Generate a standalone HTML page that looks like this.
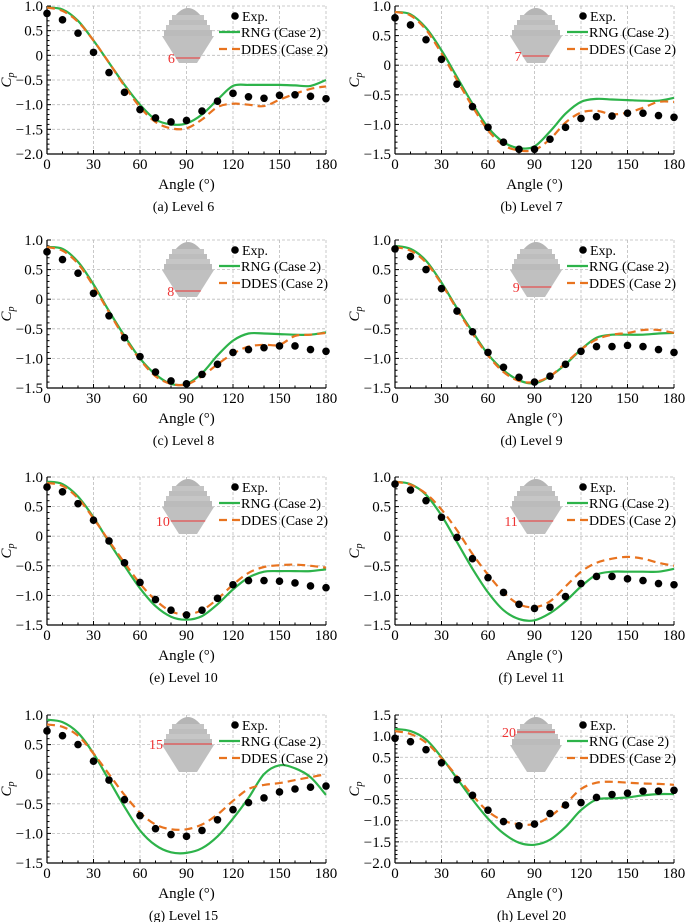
<!DOCTYPE html>
<html><head><meta charset="utf-8"><style>
body{margin:0;background:#fff;}
svg{display:block;font-family:"Liberation Serif",serif;}
</style></head><body>
<svg id="fig" width="685" height="922" viewBox="0 0 685 922" xmlns="http://www.w3.org/2000/svg"></svg>
<script>
const angles=[0,10,20,30,40,50,60,70,80,90,100,110,120,130,140,150,160,170,180];
const xTicks=[0,30,60,90,120,150,180];
const levels=["6","7","8","9","10","11","15","20"];
const captions=["(a) Level 6","(b) Level 7","(c) Level 8","(d) Level 9","(e) Level 10","(f) Level 11","(g) Level 15","(h) Level 20"];
const yMins=[-2,-1.5,-1.5,-1.5,-1.5,-1.5,-1.5,-2];
const yMaxs=[1,1,1,1,1,1,1,1.5];
const expA=[.85,.72,.45,.06,-.35,-.75,-1.1,-1.27,-1.35,-1.32,-1.13,-.93,-.77,-.84,-.87,-.81,-.8,-.83,-.88];
const rngA=[.97,.93,.7,.3,-.15,-.6,-1.0,-1.3,-1.4,-1.38,-1.2,-.9,-.62,-.6,-.6,-.6,-.61,-.62,-.5];
const ddesA=[.97,.9,.68,.3,-.15,-.62,-1.05,-1.35,-1.48,-1.48,-1.3,-1.05,-.98,-1.0,-1.03,-.9,-.78,-.68,-.63];
const expB=[.8,.68,.43,.1,-.32,-.7,-1.05,-1.3,-1.42,-1.42,-1.25,-1.05,-.9,-.87,-.86,-.81,-.81,-.85,-.88];
const rngB=[.9,.86,.63,.25,-.2,-.65,-1.05,-1.3,-1.4,-1.37,-1.12,-.82,-.62,-.57,-.58,-.59,-.6,-.6,-.55];
const ddesB=[.9,.84,.6,.2,-.25,-.7,-1.1,-1.35,-1.44,-1.43,-1.25,-.97,-.8,-.77,-.83,-.8,-.72,-.62,-.62];
const expC=[.8,.67,.44,.1,-.28,-.65,-.97,-1.23,-1.38,-1.43,-1.27,-1.1,-.9,-.85,-.82,-.79,-.79,-.85,-.88];
const rngC=[.88,.85,.63,.25,-.2,-.62,-1.0,-1.27,-1.43,-1.43,-1.25,-.95,-.7,-.58,-.58,-.59,-.6,-.6,-.56];
const ddesC=[.88,.82,.6,.22,-.22,-.65,-1.02,-1.3,-1.43,-1.44,-1.3,-1.1,-.92,-.8,-.77,-.77,-.62,-.6,-.57];
const expD=[.85,.72,.5,.18,-.2,-.55,-.9,-1.15,-1.32,-1.4,-1.3,-1.1,-.88,-.8,-.8,-.78,-.8,-.85,-.9];
const rngD=[.9,.85,.65,.28,-.15,-.55,-.93,-1.2,-1.37,-1.42,-1.3,-1.1,-.85,-.65,-.6,-.6,-.6,-.58,-.57];
const ddesD=[.88,.82,.62,.26,-.17,-.58,-.95,-1.23,-1.38,-1.4,-1.3,-1.08,-.85,-.68,-.6,-.57,-.52,-.52,-.57];
const expE=[.83,.75,.55,.27,-.08,-.45,-.78,-1.07,-1.25,-1.33,-1.25,-1.05,-.82,-.75,-.75,-.76,-.79,-.84,-.87];
const rngE=[.92,.88,.67,.32,-.1,-.5,-.88,-1.18,-1.36,-1.41,-1.35,-1.15,-.9,-.7,-.6,-.59,-.59,-.59,-.56];
const ddesE=[.9,.85,.64,.3,-.08,-.45,-.8,-1.08,-1.27,-1.32,-1.25,-1.06,-.82,-.62,-.52,-.49,-.48,-.5,-.53];
const expF=[.88,.78,.6,.32,-.02,-.38,-.7,-.95,-1.15,-1.22,-1.2,-1.02,-.8,-.68,-.68,-.72,-.75,-.8,-.82];
const rngF=[.92,.88,.7,.35,-.1,-.55,-.95,-1.25,-1.4,-1.42,-1.3,-1.1,-.85,-.65,-.6,-.6,-.6,-.6,-.55];
const ddesF=[.92,.87,.72,.45,.1,-.3,-.65,-.95,-1.15,-1.2,-1.1,-.85,-.6,-.45,-.38,-.35,-.38,-.45,-.5];
const expG=[.73,.65,.5,.22,-.1,-.43,-.7,-.92,-1.02,-1.05,-.95,-.77,-.6,-.48,-.4,-.3,-.25,-.22,-.2];
const rngG=[.92,.88,.7,.35,-.1,-.55,-.95,-1.2,-1.32,-1.33,-1.25,-1.05,-.75,-.4,0,.15,.1,-.05,-.35];
const ddesG=[.84,.8,.65,.35,0,-.35,-.65,-.85,-.93,-.93,-.85,-.68,-.45,-.25,-.18,-.15,-.1,-.05,0];
const expH=[.95,.87,.68,.37,-.03,-.4,-.75,-1.02,-1.12,-1.08,-.83,-.63,-.57,-.45,-.38,-.35,-.3,-.3,-.28];
const rngH=[1.17,1.12,.92,.5,0,-.5,-.95,-1.3,-1.52,-1.57,-1.45,-1.15,-.75,-.5,-.47,-.45,-.4,-.37,-.37];
const ddesH=[1.12,1.05,.85,.48,.05,-.4,-.78,-1.0,-1.08,-1.08,-.9,-.6,-.25,-.1,-.08,-.1,-.12,-.13,-.15];
const expAll=[expA,expB,expC,expD,expE,expF,expG,expH];
const rngAll=[rngA,rngB,rngC,rngD,rngE,rngF,rngG,rngH];
const ddesAll=[ddesA,ddesB,ddesC,ddesD,ddesE,ddesF,ddesG,ddesH];
const redOffsets=[52,50,51,47,44,44,29,17];

const NS="http://www.w3.org/2000/svg";
const fig=document.getElementById('fig');
function mk(tag,attrs,parent){const e=document.createElementNS(NS,tag);for(const k in attrs)e.setAttribute(k,attrs[k]);(parent||fig).appendChild(e);return e;}
function fmt(v){if(Math.abs(v)<1e-9)return "0";const s=Math.abs(v).toFixed(1);return (v<0?"\u2212":"")+s;}
function smooth(pts){let d="M"+pts[0][0]+","+pts[0][1];for(let i=0;i<pts.length-1;i++){const p0=pts[Math.max(0,i-1)],p1=pts[i],p2=pts[i+1],p3=pts[Math.min(pts.length-1,i+2)];const c1x=p1[0]+(p2[0]-p0[0])/6,c1y=p1[1]+(p2[1]-p0[1])/6,c2x=p2[0]-(p3[0]-p1[0])/6,c2y=p2[1]-(p3[1]-p1[1])/6;d+=" C"+c1x.toFixed(1)+","+c1y.toFixed(1)+" "+c2x.toFixed(1)+","+c2y.toFixed(1)+" "+p2[0].toFixed(1)+","+p2[1].toFixed(1);}return d;}

const tops=[6,240,477,715], lefts=[47,395], W=279, H=148;
for(let p=0;p<8;p++){
  const X0=lefts[p%2], Y0=tops[Math.floor(p/2)];
  const ymin=yMins[p], ymax=yMaxs[p];
  const sx=a=>X0+a/180*W, sy=v=>Y0+(ymax-v)/(ymax-ymin)*H;
  const g=mk('g',{});
  
  
  for(const t of xTicks){if(t>0)mk('line',{x1:sx(t),x2:sx(t),y1:Y0,y2:Y0+H,stroke:'#bbb','stroke-dasharray':'3,2','stroke-width':0.8},g);}
  const yt=[];for(let v=ymin;v<=ymax+1e-9;v+=0.5)yt.push(+v.toFixed(2));
  for(const v of yt){if(Math.abs(v-ymin)>1e-9)mk('line',{x1:X0,x2:X0+W,y1:sy(v),y2:sy(v),stroke:'#bbb','stroke-dasharray':'3,2','stroke-width':0.8},g);}
  mk('line',{x1:X0,x2:X0,y1:Y0,y2:Y0+H,stroke:'#000','stroke-width':1.2},g);
  mk('line',{x1:X0,x2:X0+W,y1:Y0+H,y2:Y0+H,stroke:'#000','stroke-width':1.2},g);
  for(let a=0;a<=180;a+=10)mk('line',{x1:sx(a),x2:sx(a),y1:Y0+H,y2:Y0+H-(a%30==0?4:2.5),stroke:'#000','stroke-width':1},g);
  for(let v=ymin;v<=ymax+1e-9;v+=0.1)mk('line',{x1:X0,x2:X0+(Math.abs(v*2-Math.round(v*2))<1e-6?4:2.5),y1:sy(v),y2:sy(v),stroke:'#000','stroke-width':1},g);
  for(const t of xTicks){const tx=mk('text',{x:sx(t),y:Y0+H+15,'text-anchor':'middle','font-size':15},g);tx.textContent=t;}
  for(const v of yt){const tx=mk('text',{x:X0-4,y:sy(v)+5,'text-anchor':'end','font-size':15},g);tx.textContent=fmt(v);}
  const xl=mk('text',{x:X0+W/2,y:Y0+H+35,'text-anchor':'middle','font-size':15},g);xl.textContent="Angle (\u00b0)";
  
  const yl=mk('text',{x:0,y:0,'text-anchor':'middle','font-size':15,'font-style':'italic',transform:`translate(${X0-36},${Y0+H/2}) rotate(-90)`},g);
  yl.innerHTML='C<tspan font-size="10" dy="3">p</tspan>';
  
  const cap=mk('text',{x:X0+W/2-3,y:Y0+H+57,'text-anchor':'middle','font-size':14},g);cap.textContent=captions[p];
  
  const cx=X0+141, iy=Y0;
  const ic=mk('g',{},g);
  
  mk('path',{d:`M${cx-13},${iy+10} Q${cx},${iy-6} ${cx+13},${iy+10} Z`,fill:'#b5b5b5'},ic);
  mk('rect',{x:cx-16,y:iy+9,width:32,height:6,fill:'#c4c4c4'},ic);
  mk('rect',{x:cx-19,y:iy+14,width:38,height:6,fill:'#bdbdbd'},ic);
  mk('rect',{x:cx-22,y:iy+19,width:44,height:6,fill:'#c6c6c6'},ic);
  mk('rect',{x:cx-24,y:iy+24,width:48,height:6,fill:'#bbbbbb'},ic);
  mk('path',{d:`M${cx-26},${iy+30} L${cx+26},${iy+30} L${cx+9},${iy+57} L${cx-9},${iy+57} Z`,fill:'#c0c0c0'},ic);
  const ro=redOffsets[p];
  const hw= ro>=30 ? 26-(ro-30)*17/27 : (ro>=24?24:ro>=19?22:ro>=14?19:16);
  mk('line',{x1:cx-hw,x2:cx+hw,y1:iy+ro,y2:iy+ro,stroke:'#e33',"stroke-width":1},ic);
  const lt=mk('text',{x:cx-hw-1,y:iy+ro+5,'text-anchor':'end','font-size':14,fill:'#e33'},ic);lt.textContent=levels[p];
  const rp=mk('path',{d:smooth(angles.map((a,i)=>[sx(a),sy(rngAll[p][i])])),fill:'none',stroke:'#2db34a','stroke-width':2.2},g);
  
  const dp=mk('path',{d:smooth(angles.map((a,i)=>[sx(a),sy(ddesAll[p][i])])),fill:'none',stroke:'#e8731f','stroke-width':2.2,'stroke-dasharray':'8,5'},g);
  
  angles.forEach((a,i)=>{const c=mk('circle',{cx:sx(a),cy:sy(expAll[p][i]),r:3.8,fill:'#000'},g);
    });
  const lg=mk('g',{},g);
  
  const lx=X0+190;
  mk('circle',{cx:lx-2,cy:Y0+10,r:3.8,fill:'#000'},lg);
  let t=mk('text',{x:lx+5,y:Y0+15,'font-size':14},lg);t.textContent="Exp.";
  mk('line',{x1:lx-18,x2:lx+3,y1:Y0+26,y2:Y0+26,stroke:'#2db34a','stroke-width':2.2},lg);
  t=mk('text',{x:lx+4,y:Y0+31,'font-size':14},lg);t.textContent="RNG (Case 2)";
  mk('line',{x1:lx-18,x2:lx+3,y1:Y0+43,y2:Y0+43,stroke:'#e8731f','stroke-width':2.2,'stroke-dasharray':'8,5'},lg);
  t=mk('text',{x:lx+4,y:Y0+48,'font-size':14},lg);t.textContent="DDES (Case 2)";
}
</script>
</body></html>
